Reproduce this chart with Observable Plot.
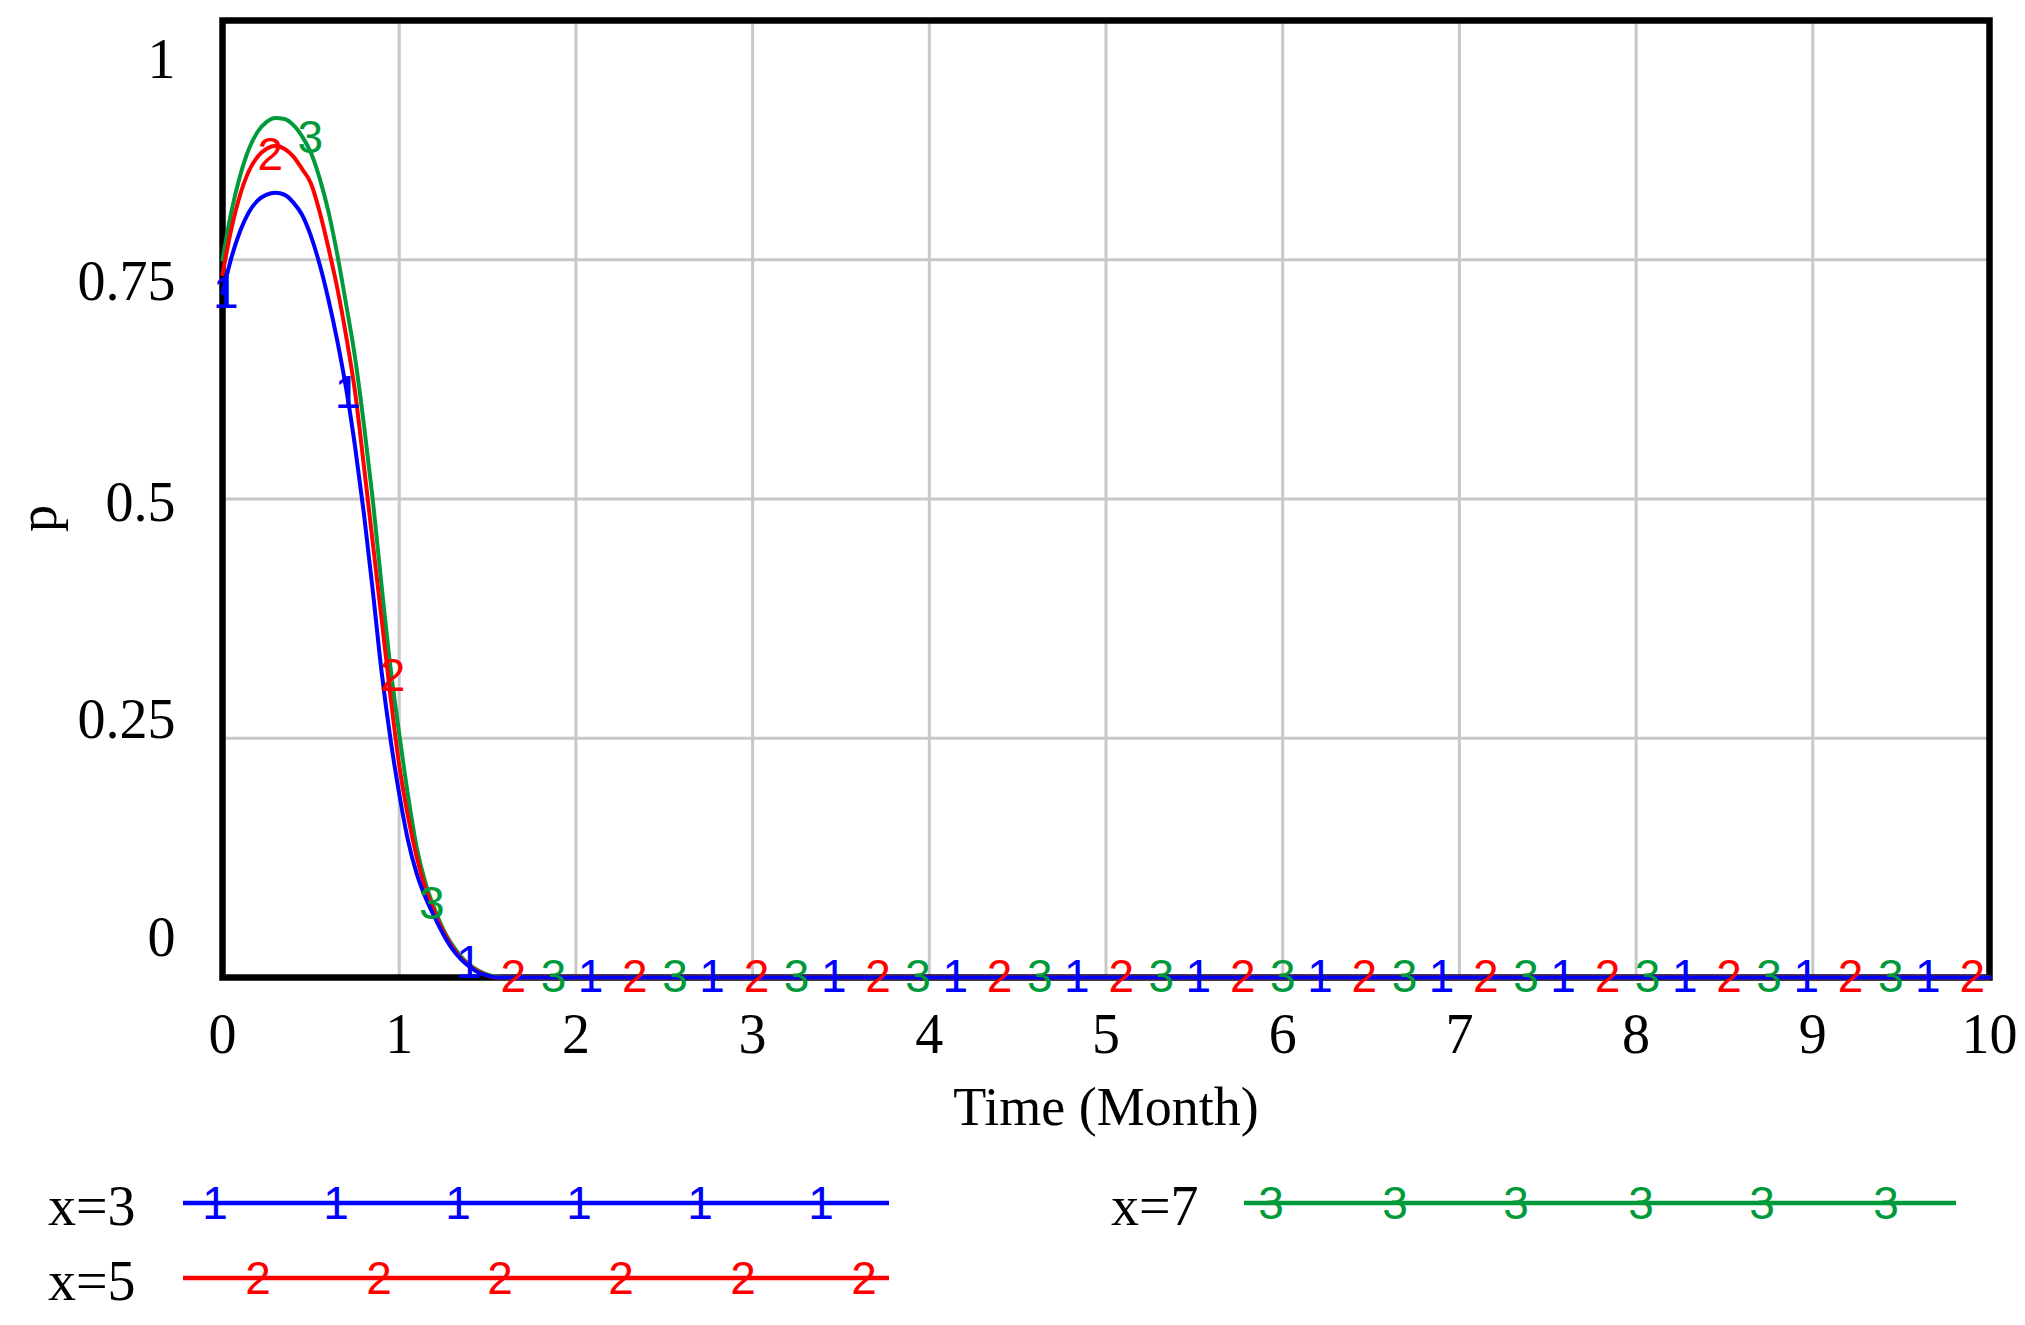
<!DOCTYPE html>
<html><head><meta charset="utf-8">
<script src="https://cdn.jsdelivr.net/npm/d3@7"></script>
<script src="https://cdn.jsdelivr.net/npm/@observablehq/plot@0.6"></script>
<style>
html,body{margin:0;padding:0;background:#fff;}
#chart{width:2025px;height:1325px;position:relative;background:#fff;}
#chart svg{display:block;}
</style></head><body><div id="chart"></div>
<script>
// ---- data ----
const time = [0,0.05,0.1,0.15,0.2,0.25,0.3,0.35,0.4,0.45,0.5,0.55,0.6,0.65,0.7,0.75,0.8,0.85,0.9,0.95,1.0,1.05,1.1,1.15,1.2,1.25,1.3,1.35,1.4,1.45,1.5,1.55,1.6,10];
const pX3 = [0.715,0.752,0.780,0.800,0.812,0.818,0.820,0.818,0.810,0.797,0.775,0.745,0.708,0.665,0.615,0.555,0.485,0.405,0.320,0.250,0.192,0.143,0.108,0.083,0.063,0.045,0.030,0.019,0.011,0.005,0.002,0,0,0];
const pX5 = [0.735,0.782,0.818,0.843,0.858,0.866,0.869,0.866,0.858,0.845,0.830,0.800,0.762,0.720,0.670,0.612,0.535,0.455,0.375,0.295,0.222,0.168,0.125,0.092,0.068,0.048,0.032,0.020,0.012,0.006,0.002,0,0,0];
const pX7 = [0.750,0.800,0.838,0.866,0.884,0.894,0.898,0.897,0.891,0.879,0.862,0.835,0.800,0.755,0.703,0.648,0.578,0.500,0.410,0.325,0.255,0.190,0.135,0.098,0.072,0.050,0.034,0.022,0.013,0.007,0.003,0.001,0,0];

// marker (series-number glyph) positions along each line
const markT3 = [0.019,0.707,1.395,2.083,2.771,3.459,4.147,4.835,5.523,6.211,6.899,7.587,8.275,8.963,9.651];
const markP3 = [0.715,0.611,0.015,0,0,0,0,0,0,0,0,0,0,0,0];
const markT5 = [0.27,0.962,1.646,2.334,3.022,3.71,4.398,5.086,5.774,6.462,7.15,7.838,8.526,9.214,9.902];
const markP5 = [0.859,0.315,0,0,0,0,0,0,0,0,0,0,0,0,0];
const markT7 = [0.497,1.185,1.873,2.561,3.249,3.937,4.625,5.313,6.001,6.689,7.377,8.065,8.753,9.441];
const markP7 = [0.877,0.077,0,0,0,0,0,0,0,0,0,0,0,0];

const seriesNames = ["x=3","x=5","x=7"];
const seriesGlyphs = ["1","2","3"];
const xTicks = [0,1,2,3,4,5,6,7,8,9,10];
const yTicks = [0,0.25,0.5,0.75,1];
const xLabel = "Time (Month)";
const yLabel = "p";

// ---- build tables ----
const colors = ["#0000ff","#ff0000","#009a3a"];
const toRows = (vals) => time.map((t,i) => ({t, p: vals[i]}));
const toMarks = (ts, ps) => ts.map((t,i) => ({t, p: ps[i]}));
const lines = [toRows(pX3), toRows(pX5), toRows(pX7)];
const marks = [toMarks(markT3, markP3), toMarks(markT5, markP5), toMarks(markT7, markP7)];

const W = 2025, H = 1150;
const serif = "'Liberation Serif', 'Times New Roman', serif";
const glyphFont = "'Liberation Sans Narrow', 'Liberation Sans', Arial, sans-serif";
const yNudge = {0: -39, 0.25: -18, 0.5: 4, 0.75: 22, 1: 40};

const plot = Plot.plot({
  width: W, height: H,
  marginLeft: 222, marginRight: 36, marginTop: 20, marginBottom: H - 977,
  x: {domain: [0, 10]},
  y: {domain: [0, 1]},
  style: {fontFamily: serif, fontSize: "56px", color: "#000", background: "#fff"},
  marks: [
    Plot.gridX(xTicks, {stroke: "#c8c8c8", strokeOpacity: 1, strokeWidth: 3}),
    Plot.gridY(yTicks, {stroke: "#c8c8c8", strokeOpacity: 1, strokeWidth: 3}),
    Plot.frame({stroke: "#000", strokeWidth: 6.5}),
    // lines: green, red, then blue on top
    Plot.line(lines[2], {x: "t", y: "p", stroke: colors[2], strokeWidth: 4, curve: "monotone-x"}),
    Plot.line(lines[1], {x: "t", y: "p", stroke: colors[1], strokeWidth: 4, curve: "monotone-x"}),
    Plot.line(lines[0], {x: "t", y: "p", stroke: colors[0], strokeWidth: 4, curve: "monotone-x"}),
    Plot.text(marks[0], {x: "t", y: "p", text: () => seriesGlyphs[0], fill: colors[0], fontFamily: glyphFont, fontSize: 46}),
    Plot.text(marks[1], {x: "t", y: "p", text: () => seriesGlyphs[1], fill: colors[1], fontFamily: glyphFont, fontSize: 46}),
    Plot.text(marks[2], {x: "t", y: "p", text: () => seriesGlyphs[2], fill: colors[2], fontFamily: glyphFont, fontSize: 46}),
    Plot.axisX(xTicks, {tickSize: 0, tickPadding: 36, fontSize: 56, tickFormat: d => String(d), label: null}),
    ...yTicks.map(v => Plot.axisY([v], {tickSize: 0, tickPadding: 47, fontSize: 56, dy: yNudge[v], tickFormat: d => String(d), label: null})),
    // axis titles
    Plot.text([xLabel], {text: d => d, frameAnchor: "bottom", lineAnchor: "middle", dy: 130, fontFamily: serif, fontSize: 54}),
    Plot.text([yLabel], {text: d => d, frameAnchor: "left", rotate: -90, lineAnchor: "middle", dx: -184, dy: 33, fontFamily: serif, fontSize: 54})
  ]
});
document.getElementById("chart").appendChild(plot);

// ---- legend below the chart ----
const legend = d3.create("svg").attr("width", W).attr("height", 175).style("display", "block");
const legendRows = [
  {i: 0, lx: 48, x1: 183, x2: 889, ly: 53, by: 75, gx: [215,336,458,579,700,821]},
  {i: 1, lx: 48, x1: 183, x2: 889, ly: 128, by: 150, gx: [258,379,500,621,743,864]},
  {i: 2, lx: 1111, x1: 1244, x2: 1956, ly: 53, by: 75, gx: [1271,1395,1516,1641,1762,1886]}
];
for (const r of legendRows) {
  legend.append("text").attr("x", r.lx).attr("y", r.by)
    .attr("font-family", serif).attr("font-size", 56)
    .attr("fill", "#000").text(seriesNames[r.i]);
  legend.append("line").attr("x1", r.x1).attr("x2", r.x2).attr("y1", r.ly).attr("y2", r.ly)
    .attr("stroke", colors[r.i]).attr("stroke-width", 4.5);
  for (const gx of r.gx) {
    legend.append("text").attr("x", gx).attr("y", r.ly).attr("dy", "0.34em")
      .attr("text-anchor", "middle").attr("font-family", glyphFont).attr("font-size", 46)
      .attr("fill", colors[r.i]).text(seriesGlyphs[r.i]);
  }
}
document.getElementById("chart").appendChild(legend.node());
</script>
</body></html>
